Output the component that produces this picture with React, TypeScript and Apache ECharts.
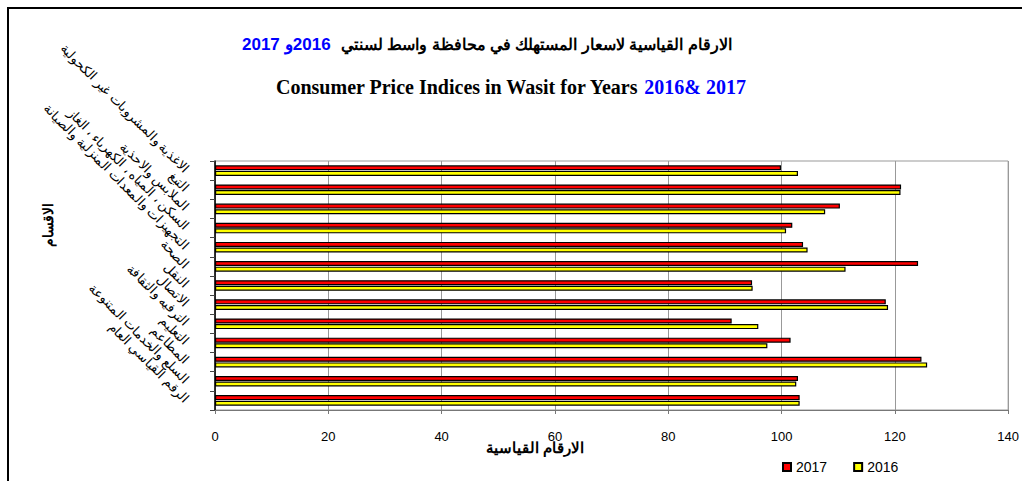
import React, { useEffect, useRef } from "react";
import * as echarts from "echarts";

const categories = [
  "الاغذية والمشروبات غير الكحولية",
  "التبغ",
  "الملابس والاحذية",
  "السكن ، المياه ، الكهرباء ، الغاز",
  "التجهيزات والمعدات المنزلية والصيانة",
  "الصحة",
  "النقل",
  "الاتصال",
  "الترفيه والثقافة",
  "التعليم",
  "المطاعم",
  "السلع والخدمات المتنوعة",
  "الرقم القياسي العام",
];

const values2017 = [99.9, 121.1, 110.3, 101.9, 103.8, 124.1, 94.8, 118.4, 91.2, 101.6, 124.7, 102.9, 103.2];
const values2016 = [102.9, 121.0, 107.7, 100.8, 104.6, 111.3, 94.9, 118.8, 95.9, 97.5, 125.7, 102.6, 103.2];

const seriesNames = ["2017", "2016"];
const xMin = 0;
const xMax = 140;
const xInterval = 20;

const titleArabic = "الارقام القياسية لاسعار المستهلك في محافظة واسط لسنتي";
const titleEnglish = "Consumer Price Indices in Wasit for Years ";
const titleYears = "2016& 2017";
const yAxisName = "الاقسام";
const xAxisName = "الارقام القياسية";

export default function App() {
  const ref = useRef<HTMLDivElement>(null);
  useEffect(() => {
    document.body.style.margin = "0";
    if (!ref.current) return;
    const chart = echarts.init(ref.current, null, { renderer: "svg" });
    chart.setOption({
      animation: false,
      backgroundColor: "#fff",
      title: [
        {
          left: 237,
          top: 30,
          text: "{n|2017} {n|و}{n|2016}  {a|" + titleArabic + "}",
          textStyle: {
            rich: {
              n: { fontSize: 17, fontWeight: "bold", fontFamily: "Arial", color: "#0000FF" },
              a: { fontSize: 16, fontWeight: "bold", fontFamily: "Arial", color: "#000" },
            },
          },
        },
        {
          left: 271,
          top: 72,
          text: "{e|" + titleEnglish + "}{y|" + titleYears + "}",
          textStyle: {
            rich: {
              e: { fontSize: 20, fontWeight: "bold", fontFamily: "Times New Roman, Liberation Serif, serif", color: "#000" },
              y: { fontSize: 20, fontWeight: "bold", fontFamily: "Times New Roman, Liberation Serif, serif", color: "#0000FF" },
            },
          },
        },
      ],
      legend: {
        data: seriesNames,
        left: 777,
        top: 455,
        itemWidth: 8,
        itemHeight: 8,
        itemGap: 26,
        icon: "rect",
        textStyle: { fontSize: 14, fontFamily: "Arial", color: "#000" },
      },
      grid: {
        left: 215,
        right: 12,
        top: 161,
        bottom: 71,
        show: true,
        borderColor: "#999",
        borderWidth: 1,
        containLabel: false,
      },
      xAxis: {
        type: "value",
        min: xMin,
        max: xMax,
        interval: xInterval,
        axisLine: { show: true, lineStyle: { color: "#777", width: 1 } },
        axisTick: { show: true, length: 4, lineStyle: { color: "#777" } },
        splitLine: { show: true, lineStyle: { color: "#999", width: 1 } },
        axisLabel: { margin: 20, fontSize: 13, fontFamily: "Arial", color: "#000" },
      },
      yAxis: {
        type: "category",
        data: categories,
        inverse: true,
        axisLine: { show: true, lineStyle: { color: "#000", width: 1.5 } },
        axisTick: { show: true, length: 5, lineStyle: { color: "#444" } },
        splitLine: { show: false },
        axisLabel: {
          interval: 0,
          rotate: -45,
          margin: 28,
          fontSize: 13,
          fontFamily: "Times New Roman, serif",
          color: "#000",
        },
      },
      series: [
        {
          name: seriesNames[0],
          type: "bar",
          data: values2017,
          barWidth: 5,
          barGap: "12%",
          itemStyle: { color: "#FF0000", borderColor: "#000", borderWidth: 1.2 },
        },
        {
          name: seriesNames[1],
          type: "bar",
          data: values2016,
          barWidth: 5,
          barGap: "12%",
          itemStyle: { color: "#FFFF00", borderColor: "#000", borderWidth: 1.2 },
        },
      ],
      graphic: [
        {
          type: "rect",
          silent: true,
          shape: { x: 8, y: 8, width: 1100, height: 600 },
          style: { fill: "none", stroke: "#000", lineWidth: 2 },
        },
        {
          type: "text",
          x: 48,
          y: 225,
          rotation: Math.PI / 2,
          style: {
            text: yAxisName,
            font: "bold 14px Arial",
            fill: "#000",
            align: "center",
            verticalAlign: "middle",
          },
        },
        {
          type: "text",
          x: 535,
          y: 447,
          style: {
            text: xAxisName,
            font: "bold 15px Arial",
            fill: "#000",
            align: "center",
            verticalAlign: "middle",
          },
        },
      ],
    });
    return () => chart.dispose();
  }, []);
  return <div ref={ref} style={{ width: 1022, height: 481 }} />;
}
